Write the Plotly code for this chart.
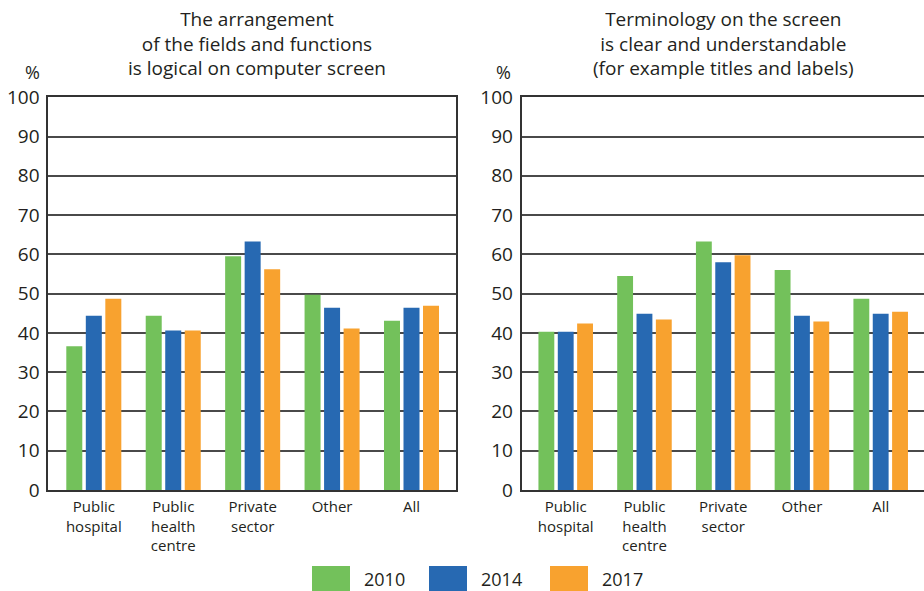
import plotly.graph_objects as go

# Survey results: share of respondents agreeing (%), by sector and year
categories = ["Public<br>hospital", "Public<br>health<br>centre", "Private<br>sector", "Other", "All"]
years = ["2010", "2014", "2017"]

layout_2010 = [36.6, 44.4, 59.5, 49.7, 43.1]
layout_2014 = [44.4, 40.6, 63.3, 46.4, 46.4]
layout_2017 = [48.7, 40.6, 56.2, 41.1, 46.9]

terms_2010 = [40.3, 54.5, 63.3, 56.0, 48.7]
terms_2014 = [40.3, 44.9, 58.0, 44.4, 44.9]
terms_2017 = [42.4, 43.4, 59.8, 42.9, 45.4]

y_ticks = list(range(0, 101, 10))
colors = ["#73C15B", "#2769B2", "#F8A22F"]

titles = [
    "The arrangement<br>of the fields and functions<br>is logical on computer screen",
    "Terminology on the screen<br>is clear and understandable<br>(for example titles and labels)",
]

W, H = 924, 591
FONT = "Open Sans"
TXT = "#231F20"

fig = go.Figure()

panels = [
    ([layout_2010, layout_2014, layout_2017], "x", "y"),
    ([terms_2010, terms_2014, terms_2017], "x2", "y2"),
]
for series, xa, ya in panels:
    for name, vals, col in zip(years, series, colors):
        fig.add_trace(go.Bar(
            x=list(range(len(categories))), y=vals, name=name,
            marker=dict(color=col, line=dict(width=0)),
            xaxis=xa, yaxis=ya, showlegend=False,
        ))

ydom = [(591 - 490) / H, (591 - 97.3) / H]
xdom1 = [48.3 / W, 455.5 / W]
xdom2 = [521.7 / W, 1.0]

axis_font = dict(family=FONT, size=15, color=TXT)
ytick_font = dict(family=FONT, size=19, color=TXT)

def xaxis(dom, rng, anchor, mirror):
    return dict(
        domain=dom, range=rng, anchor=anchor, automargin=False,
        tickmode="array", tickvals=list(range(len(categories))), ticktext=categories,
        tickfont=axis_font, showgrid=False, zeroline=False,
        showline=True, linecolor="#333333", linewidth=2, mirror=mirror,
        ticks="", ticklabelstandoff=2, fixedrange=True,
    )

def yaxis(dom, anchor, mirror):
    return dict(
        domain=dom, range=[0, 100], anchor=anchor, automargin=False,
        tickmode="array", tickvals=y_ticks, ticktext=[str(v) for v in y_ticks],
        tickfont=ytick_font, showgrid=True, gridcolor="#4a4a4a", gridwidth=1.7,
        zeroline=False, showline=True, linecolor="#333333", linewidth=2,
        mirror=mirror, ticks="", ticklabelstandoff=3,
    )

fig.update_layout(
    width=W, height=H,
    margin=dict(l=0, r=0, t=0, b=0, autoexpand=False),
    paper_bgcolor="white", plot_bgcolor="white",
    barmode="group", bargap=0.263, bargroupgap=0.18,
    xaxis=xaxis(xdom1, [-0.573, 4.554], "y", True),
    yaxis=yaxis(ydom, "x", True),
    xaxis2=xaxis(xdom2, [-0.559, 4.55], "y2", "all"),
    yaxis2=yaxis(ydom, "x2", False),
    showlegend=False,
    font=dict(family=FONT, color=TXT),
)

# Panel titles and unit labels
for title, cx in zip(titles, [257 / W, 723 / W]):
    fig.add_annotation(
        text=title, x=cx, y=1 - 4 / H, xref="paper", yref="paper",
        xanchor="center", yanchor="top", showarrow=False, align="center",
        font=dict(family=FONT, size=19, color=TXT),
    )
for px in [32 / W, 503 / W]:
    fig.add_annotation(
        text="%", x=px, y=1 - 72 / H, xref="paper", yref="paper",
        xanchor="center", yanchor="middle", showarrow=False,
        font=dict(family=FONT, size=18, color=TXT),
    )

# Legend: wide colour swatches with year labels
sw_x = [312, 429, 550]
for name, col, x0 in zip(years, colors, sw_x):
    fig.add_shape(
        type="rect", xref="paper", yref="paper",
        x0=x0 / W, x1=(x0 + 38) / W, y0=1 - 591 / H, y1=1 - 566 / H,
        fillcolor=col, line=dict(width=0),
    )
    fig.add_annotation(
        text=name, x=(x0 + 50) / W, y=1 - 578.5 / H, xref="paper", yref="paper",
        xanchor="left", yanchor="middle", showarrow=False,
        font=dict(family=FONT, size=18, color=TXT),
    )

fig.write_html("out.html")
